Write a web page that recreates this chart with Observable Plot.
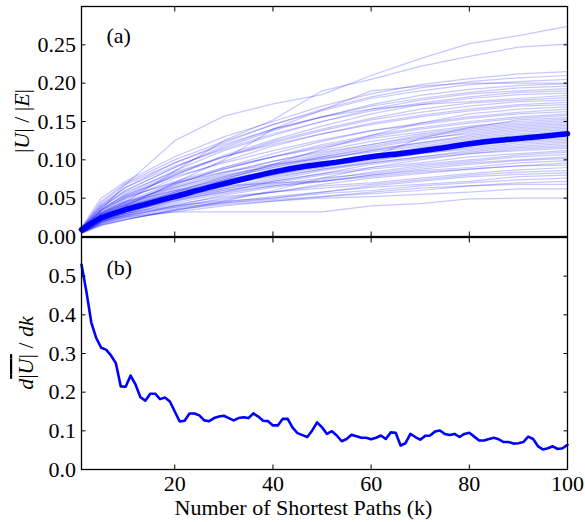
<!DOCTYPE html>
<html><head><meta charset="utf-8">
<script src="https://cdn.jsdelivr.net/npm/d3@7"></script>
<script src="https://cdn.jsdelivr.net/npm/@observablehq/plot@0.6"></script>
<style>
html,body{margin:0;padding:0;background:#fff;}
#chart svg{display:block;}
</style></head><body><div id="chart"></div>
<script>
// ---- data ----
const kSamples = [1,5,10,20,30,40,50,60,70,80,90,100];
const runs = [
  [0.008,0.035,0.068,0.125,0.157,0.173,0.185,0.210,0.232,0.2515,0.262,0.274],
  [0.007,0.028,0.045,0.085,0.125,0.152,0.190,0.205,0.222,0.235,0.247,0.251],
  [0.006,0.025,0.040,0.070,0.100,0.140,0.165,0.190,0.196,0.200,0.200,0.200],
  [0.005,0.018,0.026,0.032,0.032,0.032,0.032,0.040,0.043,0.049,0.050,0.050],
  [0.004,0.014,0.022,0.035,0.042,0.046,0.050,0.052,0.055,0.058,0.062,0.062],
  [0.006,0.020,0.028,0.038,0.044,0.048,0.052,0.058,0.063,0.066,0.068,0.068],
  [0.005,0.016,0.024,0.032,0.040,0.046,0.052,0.056,0.060,0.066,0.070,0.072],
  [0.007,0.022,0.030,0.040,0.046,0.050,0.056,0.060,0.066,0.070,0.074,0.076],
  [0.005,0.017,0.025,0.036,0.045,0.052,0.058,0.064,0.068,0.072,0.078,0.080],
  [0.006,0.015,0.022,0.034,0.044,0.050,0.058,0.066,0.072,0.078,0.081,0.083],
  [0.004,0.019,0.030,0.042,0.052,0.058,0.063,0.068,0.074,0.080,0.084,0.086],
  [0.006,0.021,0.027,0.038,0.050,0.058,0.066,0.070,0.076,0.082,0.087,0.090],
  [0.006,0.030,0.045,0.060,0.066,0.070,0.072,0.078,0.084,0.088,0.092,0.093],
  [0.007,0.018,0.028,0.040,0.048,0.058,0.068,0.076,0.082,0.088,0.092,0.096],
  [0.006,0.020,0.032,0.048,0.058,0.066,0.072,0.080,0.086,0.090,0.096,0.099],
  [0.005,0.016,0.026,0.040,0.054,0.064,0.072,0.080,0.088,0.094,0.099,0.102],
  [0.008,0.026,0.036,0.050,0.060,0.068,0.076,0.082,0.090,0.096,0.100,0.104],
  [0.006,0.022,0.030,0.044,0.056,0.066,0.074,0.084,0.092,0.098,0.104,0.107],
  [0.005,0.019,0.028,0.046,0.060,0.070,0.080,0.088,0.094,0.100,0.106,0.110],
  [0.007,0.025,0.038,0.052,0.062,0.072,0.082,0.090,0.096,0.104,0.108,0.112],
  [0.004,0.015,0.022,0.034,0.046,0.060,0.076,0.090,0.100,0.108,0.112,0.115],
  [0.005,0.023,0.032,0.046,0.058,0.072,0.082,0.094,0.102,0.108,0.114,0.117],
  [0.008,0.028,0.040,0.056,0.068,0.078,0.088,0.096,0.104,0.110,0.116,0.119],
  [0.006,0.021,0.030,0.048,0.062,0.074,0.086,0.096,0.104,0.112,0.118,0.121],
  [0.007,0.026,0.036,0.054,0.068,0.080,0.090,0.100,0.108,0.114,0.120,0.123],
  [0.005,0.018,0.030,0.050,0.064,0.076,0.088,0.098,0.108,0.116,0.122,0.125],
  [0.006,0.024,0.040,0.058,0.072,0.084,0.094,0.104,0.112,0.118,0.124,0.127],
  [0.008,0.030,0.042,0.060,0.074,0.086,0.096,0.106,0.114,0.120,0.126,0.129],
  [0.005,0.022,0.034,0.052,0.068,0.080,0.092,0.104,0.114,0.122,0.128,0.131],
  [0.006,0.027,0.038,0.056,0.070,0.084,0.096,0.106,0.116,0.124,0.130,0.133],
  [0.008,0.034,0.052,0.070,0.084,0.094,0.102,0.110,0.118,0.126,0.132,0.135],
  [0.006,0.025,0.040,0.060,0.076,0.090,0.102,0.112,0.120,0.128,0.134,0.137],
  [0.009,0.032,0.046,0.064,0.080,0.092,0.104,0.114,0.122,0.130,0.136,0.139],
  [0.005,0.021,0.034,0.054,0.072,0.088,0.100,0.112,0.122,0.132,0.138,0.141],
  [0.007,0.028,0.042,0.062,0.078,0.092,0.106,0.118,0.128,0.134,0.140,0.143],
  [0.006,0.024,0.038,0.058,0.076,0.090,0.104,0.116,0.126,0.136,0.142,0.145],
  [0.008,0.030,0.044,0.066,0.084,0.098,0.110,0.120,0.130,0.138,0.144,0.147],
  [0.006,0.023,0.036,0.058,0.078,0.094,0.108,0.120,0.132,0.140,0.146,0.149],
  [0.007,0.027,0.042,0.064,0.082,0.098,0.112,0.124,0.134,0.142,0.148,0.151],
  [0.009,0.034,0.050,0.072,0.090,0.104,0.116,0.128,0.136,0.144,0.150,0.153],
  [0.006,0.024,0.036,0.056,0.074,0.086,0.090,0.104,0.128,0.142,0.152,0.155],
  [0.008,0.031,0.046,0.070,0.088,0.104,0.118,0.130,0.140,0.148,0.154,0.158],
  [0.007,0.028,0.044,0.068,0.088,0.104,0.120,0.132,0.142,0.150,0.156,0.160],
  [0.009,0.036,0.054,0.078,0.096,0.112,0.126,0.138,0.146,0.154,0.160,0.163],
  [0.006,0.026,0.042,0.068,0.090,0.108,0.124,0.138,0.148,0.156,0.162,0.166],
  [0.005,0.020,0.032,0.054,0.074,0.094,0.114,0.132,0.148,0.160,0.166,0.169],
  [0.010,0.038,0.058,0.084,0.104,0.120,0.134,0.146,0.156,0.164,0.170,0.172],
  [0.007,0.029,0.048,0.076,0.098,0.118,0.134,0.148,0.158,0.166,0.172,0.175],
  [0.009,0.035,0.054,0.082,0.104,0.122,0.138,0.152,0.162,0.170,0.176,0.178],
  [0.008,0.032,0.052,0.080,0.104,0.124,0.140,0.154,0.166,0.174,0.178,0.181],
  [0.010,0.040,0.060,0.090,0.118,0.140,0.156,0.166,0.172,0.176,0.180,0.184],
  [0.007,0.030,0.050,0.080,0.106,0.126,0.144,0.160,0.172,0.180,0.185,0.187],
  [0.011,0.042,0.064,0.092,0.114,0.134,0.150,0.164,0.174,0.182,0.188,0.190],
  [0.008,0.034,0.056,0.086,0.112,0.132,0.150,0.166,0.178,0.186,0.190,0.193],
  [0.010,0.044,0.068,0.096,0.120,0.140,0.156,0.170,0.180,0.188,0.194,0.196],
  [0.009,0.038,0.060,0.090,0.116,0.138,0.156,0.172,0.184,0.192,0.197,0.199],
  [0.011,0.046,0.070,0.100,0.124,0.146,0.164,0.180,0.190,0.198,0.202,0.205],
  [0.010,0.040,0.064,0.096,0.122,0.146,0.166,0.182,0.194,0.202,0.207,0.210],
  [0.012,0.050,0.072,0.104,0.130,0.150,0.170,0.186,0.198,0.206,0.212,0.215]
];
const meanK = [1,3,5,7,10,14,20,27,34,40,47,54,60,67,74,80,87,94,100];
const meanU = [0.009,0.017,0.024,0.029,0.035,0.042,0.052,0.064,0.075,0.084,0.092,0.098,0.104,0.109,0.115,0.121,0.126,0.130,0.134];
const derivative = [
  0.530,0.460,0.380,0.340,0.315,0.310,0.295,0.275,0.215,0.214,
  0.243,0.220,0.187,0.178,0.196,0.196,0.182,0.186,0.176,0.150,
  0.124,0.126,0.145,0.145,0.140,0.127,0.125,0.133,0.137,0.139,
  0.133,0.127,0.133,0.135,0.133,0.145,0.137,0.126,0.125,0.114,
  0.114,0.131,0.131,0.108,0.094,0.089,0.084,0.101,0.122,0.109,
  0.092,0.099,0.088,0.073,0.079,0.090,0.086,0.082,0.082,0.078,
  0.082,0.088,0.079,0.096,0.095,0.062,0.068,0.092,0.084,0.077,
  0.087,0.088,0.098,0.101,0.092,0.089,0.092,0.084,0.092,0.095,
  0.085,0.075,0.075,0.079,0.082,0.078,0.071,0.071,0.067,0.068,
  0.071,0.085,0.079,0.060,0.052,0.055,0.060,0.053,0.055,0.064
];
const xTicks = [20,40,60,80,100];
const yTicksTop = [0,0.05,0.10,0.15,0.20,0.25];
const yTicksBottom = [0,0.1,0.2,0.3,0.4,0.5];
const xLabel = "Number of Shortest Paths (k)";

// ---- tables ----
const runRows = runs.flatMap((r, i) => r.map((u, j) => ({run: i, k: kSamples[j], u})));
const meanRows = meanK.map((k, i) => ({k, u: meanU[i]}));
const derivRows = derivative.map((v, i) => ({k: i + 1, v}));

const FONT = "'Liberation Serif','Times New Roman',serif";
const style = {fontFamily: FONT, fontSize: "22px", background: "white", overflow: "visible", color: "black"};
const BLUE = "#0000ff";
const TS = -4.5;

const topPlot = Plot.plot({
  width: 585, height: 237, marginTop: 6, marginBottom: 1, marginLeft: 81, marginRight: 18,
  style,
  x: {domain: [1, 100]},
  y: {domain: [0, 0.30]},
  marks: [
    Plot.line(runRows, {x: "k", y: "u", z: "run", stroke: BLUE, strokeOpacity: 0.22, strokeWidth: 1.25}),
    Plot.line(meanRows, {x: "k", y: "u", stroke: BLUE, strokeWidth: 5.5, curve: "monotone-x"}),
    Plot.frame({stroke: "black", strokeWidth: 1.3}),
    Plot.axisY(yTicksTop, {anchor: "left", tickSize: TS, tickPadding: 10, tickFormat: d3.format(".2f"), label: null}),
    Plot.axisY(yTicksTop, {anchor: "right", tickSize: TS, tickFormat: () => "", label: null}),
    Plot.axisX(xTicks.slice(0, 4), {anchor: "bottom", tickSize: TS, tickFormat: () => "", label: null}),
    Plot.axisX(xTicks.slice(0, 4), {anchor: "top", tickSize: TS, tickFormat: () => "", label: null}),
    Plot.text(["(a)"], {frameAnchor: "top-left", dx: 25, dy: 21, fontSize: 22})
  ]
});

const bottomPlot = Plot.plot({
  width: 585, height: 285, marginTop: 0, marginBottom: 53, marginLeft: 81, marginRight: 18,
  style,
  x: {domain: [1, 100]},
  y: {domain: [0, 0.6]},
  marks: [
    Plot.line(derivRows, {x: "k", y: "v", stroke: BLUE, strokeWidth: 2.6}),
    Plot.frame({stroke: "black", strokeWidth: 1.3}),
    Plot.axisY(yTicksBottom, {anchor: "left", tickSize: TS, tickPadding: 10, tickFormat: d3.format(".1f"), label: null}),
    Plot.axisY(yTicksBottom, {anchor: "right", tickSize: TS, tickFormat: () => "", label: null}),
    Plot.axisX(xTicks, {anchor: "bottom", tickSize: TS, tickPadding: 10, tickFormat: d3.format("d"), label: null}),
    Plot.axisX(xTicks, {anchor: "top", tickSize: TS, tickFormat: () => "", label: null}),
    Plot.text(["(b)"], {frameAnchor: "top-left", dx: 25, dy: 22, fontSize: 22}),
    Plot.text([xLabel], {frameAnchor: "bottom", dx: -21, dy: 45, fontSize: 22})
  ]
});

const chart = document.getElementById("chart");
chart.appendChild(topPlot);
chart.appendChild(bottomPlot);

// y-axis labels with math styling
function mathLabel(svg, cx, cy, parts) {
  const t = d3.select(svg).append("text")
    .attr("transform", `translate(${cx},${cy}) rotate(-90)`)
    .attr("text-anchor", "middle")
    .attr("dominant-baseline", "middle")
    .attr("font-family", FONT)
    .attr("font-size", 22)
    .attr("fill", "black");
  parts.forEach(p => {
    const s = t.append("tspan").text(p.t);
    if (p.i) s.attr("font-style", "italic");
    if (p.o) s.attr("text-decoration", "overline");
  });
}
mathLabel(topPlot, 24, 121, [
  {t: "|"}, {t: "U", i: 1}, {t: "| / |"}, {t: "E", i: 1}, {t: "|"}
]);
mathLabel(bottomPlot, 28, 116, [
  {t: "d", i: 1}, {t: "|", o: 1}, {t: "U", i: 1, o: 1}, {t: "|", o: 1}, {t: " / "}, {t: "dk", i: 1}
]);
</script></body></html>
